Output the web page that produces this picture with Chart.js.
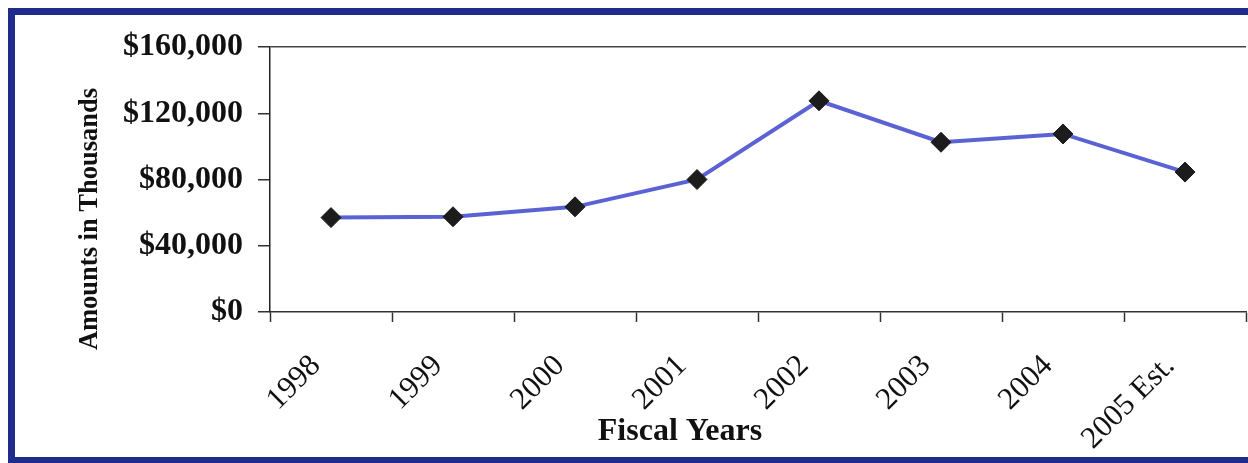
<!DOCTYPE html>
<html>
<head>
<meta charset="utf-8">
<script src="https://cdn.jsdelivr.net/npm/chart.js@4.4.1/dist/chart.umd.min.js"></script>
<style>
  html, body { margin: 0; padding: 0; background: #fff; }
  #wrap { width: 1248px; height: 463px; position: relative; }
</style>
</head>
<body>
<div id="wrap"><canvas id="lineChart" width="1248" height="463"></canvas></div>
<script>
const years = ['1998', '1999', '2000', '2001', '2002', '2003', '2004', '2005 Est.'];
const amounts = [57000, 57500, 63500, 80000, 127500, 102500, 107500, 84500];
const yTicks = [0, 40000, 80000, 120000, 160000];

const serif = '"Liberation Serif", "Times New Roman", serif';

// blue frame + axis titles drawn where the original has them
const framePlugin = {
  id: 'frame',
  beforeDraw(chart) {
    const ctx = chart.ctx;
    ctx.save();
    ctx.fillStyle = '#ffffff';
    ctx.fillRect(0, 0, chart.width, chart.height);
    ctx.restore();
  },
  afterDraw(chart) {
    const ctx = chart.ctx;
    ctx.save();
    ctx.fillStyle = '#1f2c8c';
    ctx.fillRect(8, 8, 1240, 7);
    ctx.fillRect(8, 8, 7, 455);
    ctx.fillRect(8, 457, 1240, 6);

    ctx.fillStyle = '#111';
    ctx.textAlign = 'center';
    ctx.textBaseline = 'middle';
    ctx.font = 'bold 32px ' + serif;
    ctx.fillText('Fiscal Years', 680, 432);

    ctx.translate(90, 219);
    ctx.rotate(-Math.PI / 2);
    ctx.font = 'bold 26.5px ' + serif;
    ctx.fillText('Amounts in Thousands', 0, 0);
    ctx.restore();
  }
};

const configLine = {
  type: 'line',
  data: {
    labels: years,
    datasets: [{
      label: 'Amounts',
      data: amounts,
      borderColor: '#5a62d4',
      borderWidth: 4,
      tension: 0,
      pointStyle: 'rectRot',
      pointRadius: 10,
      pointHoverRadius: 10,
      pointBackgroundColor: '#1c1c1c',
      pointBorderColor: '#1c1c1c',
      pointBorderWidth: 1
    }]
  },
  options: {
    responsive: false,
    animation: false,
    events: [],
    layout: { autoPadding: false, padding: { top: 47, right: 2, left: 0, bottom: 0 } },
    plugins: {
      legend: { display: false },
      tooltip: { enabled: false }
    },
    scales: {
      x: {
        offset: true,
        afterFit: (s) => { s.height = 151; },
        grid: {
          offset: true,
          drawOnChartArea: false,
          tickLength: 10,
          tickColor: '#333',
          tickWidth: 1.5
        },
        border: { color: '#333', width: 1.5 },
        ticks: {
          maxRotation: 45,
          minRotation: 45,
          padding: 26,
          labelOffset: -15,
          color: '#111',
          font: { family: serif, size: 31 }
        }
      },
      y: {
        min: 0,
        max: 160000,
        afterFit: (s) => { s.width = 270; },
        afterBuildTicks: (s) => { s.ticks = yTicks.map(v => ({ value: v })); },
        grid: {
          color: (c) => (c.tick && c.tick.value === 160000 ? '#444' : 'rgba(0,0,0,0)'),
          lineWidth: 1.5,
          tickLength: 12,
          tickColor: '#333',
          tickWidth: 1.5
        },
        border: { color: '#222', width: 1.5 },
        ticks: {
          padding: 15,
          color: '#111',
          font: { family: serif, size: 32, weight: 'bold' },
          callback: (v) => '$' + v.toLocaleString('en-US')
        }
      }
    }
  },
  plugins: [framePlugin]
};

const lineChart = new Chart(document.getElementById('lineChart'), configLine);
</script>
</body>
</html>
